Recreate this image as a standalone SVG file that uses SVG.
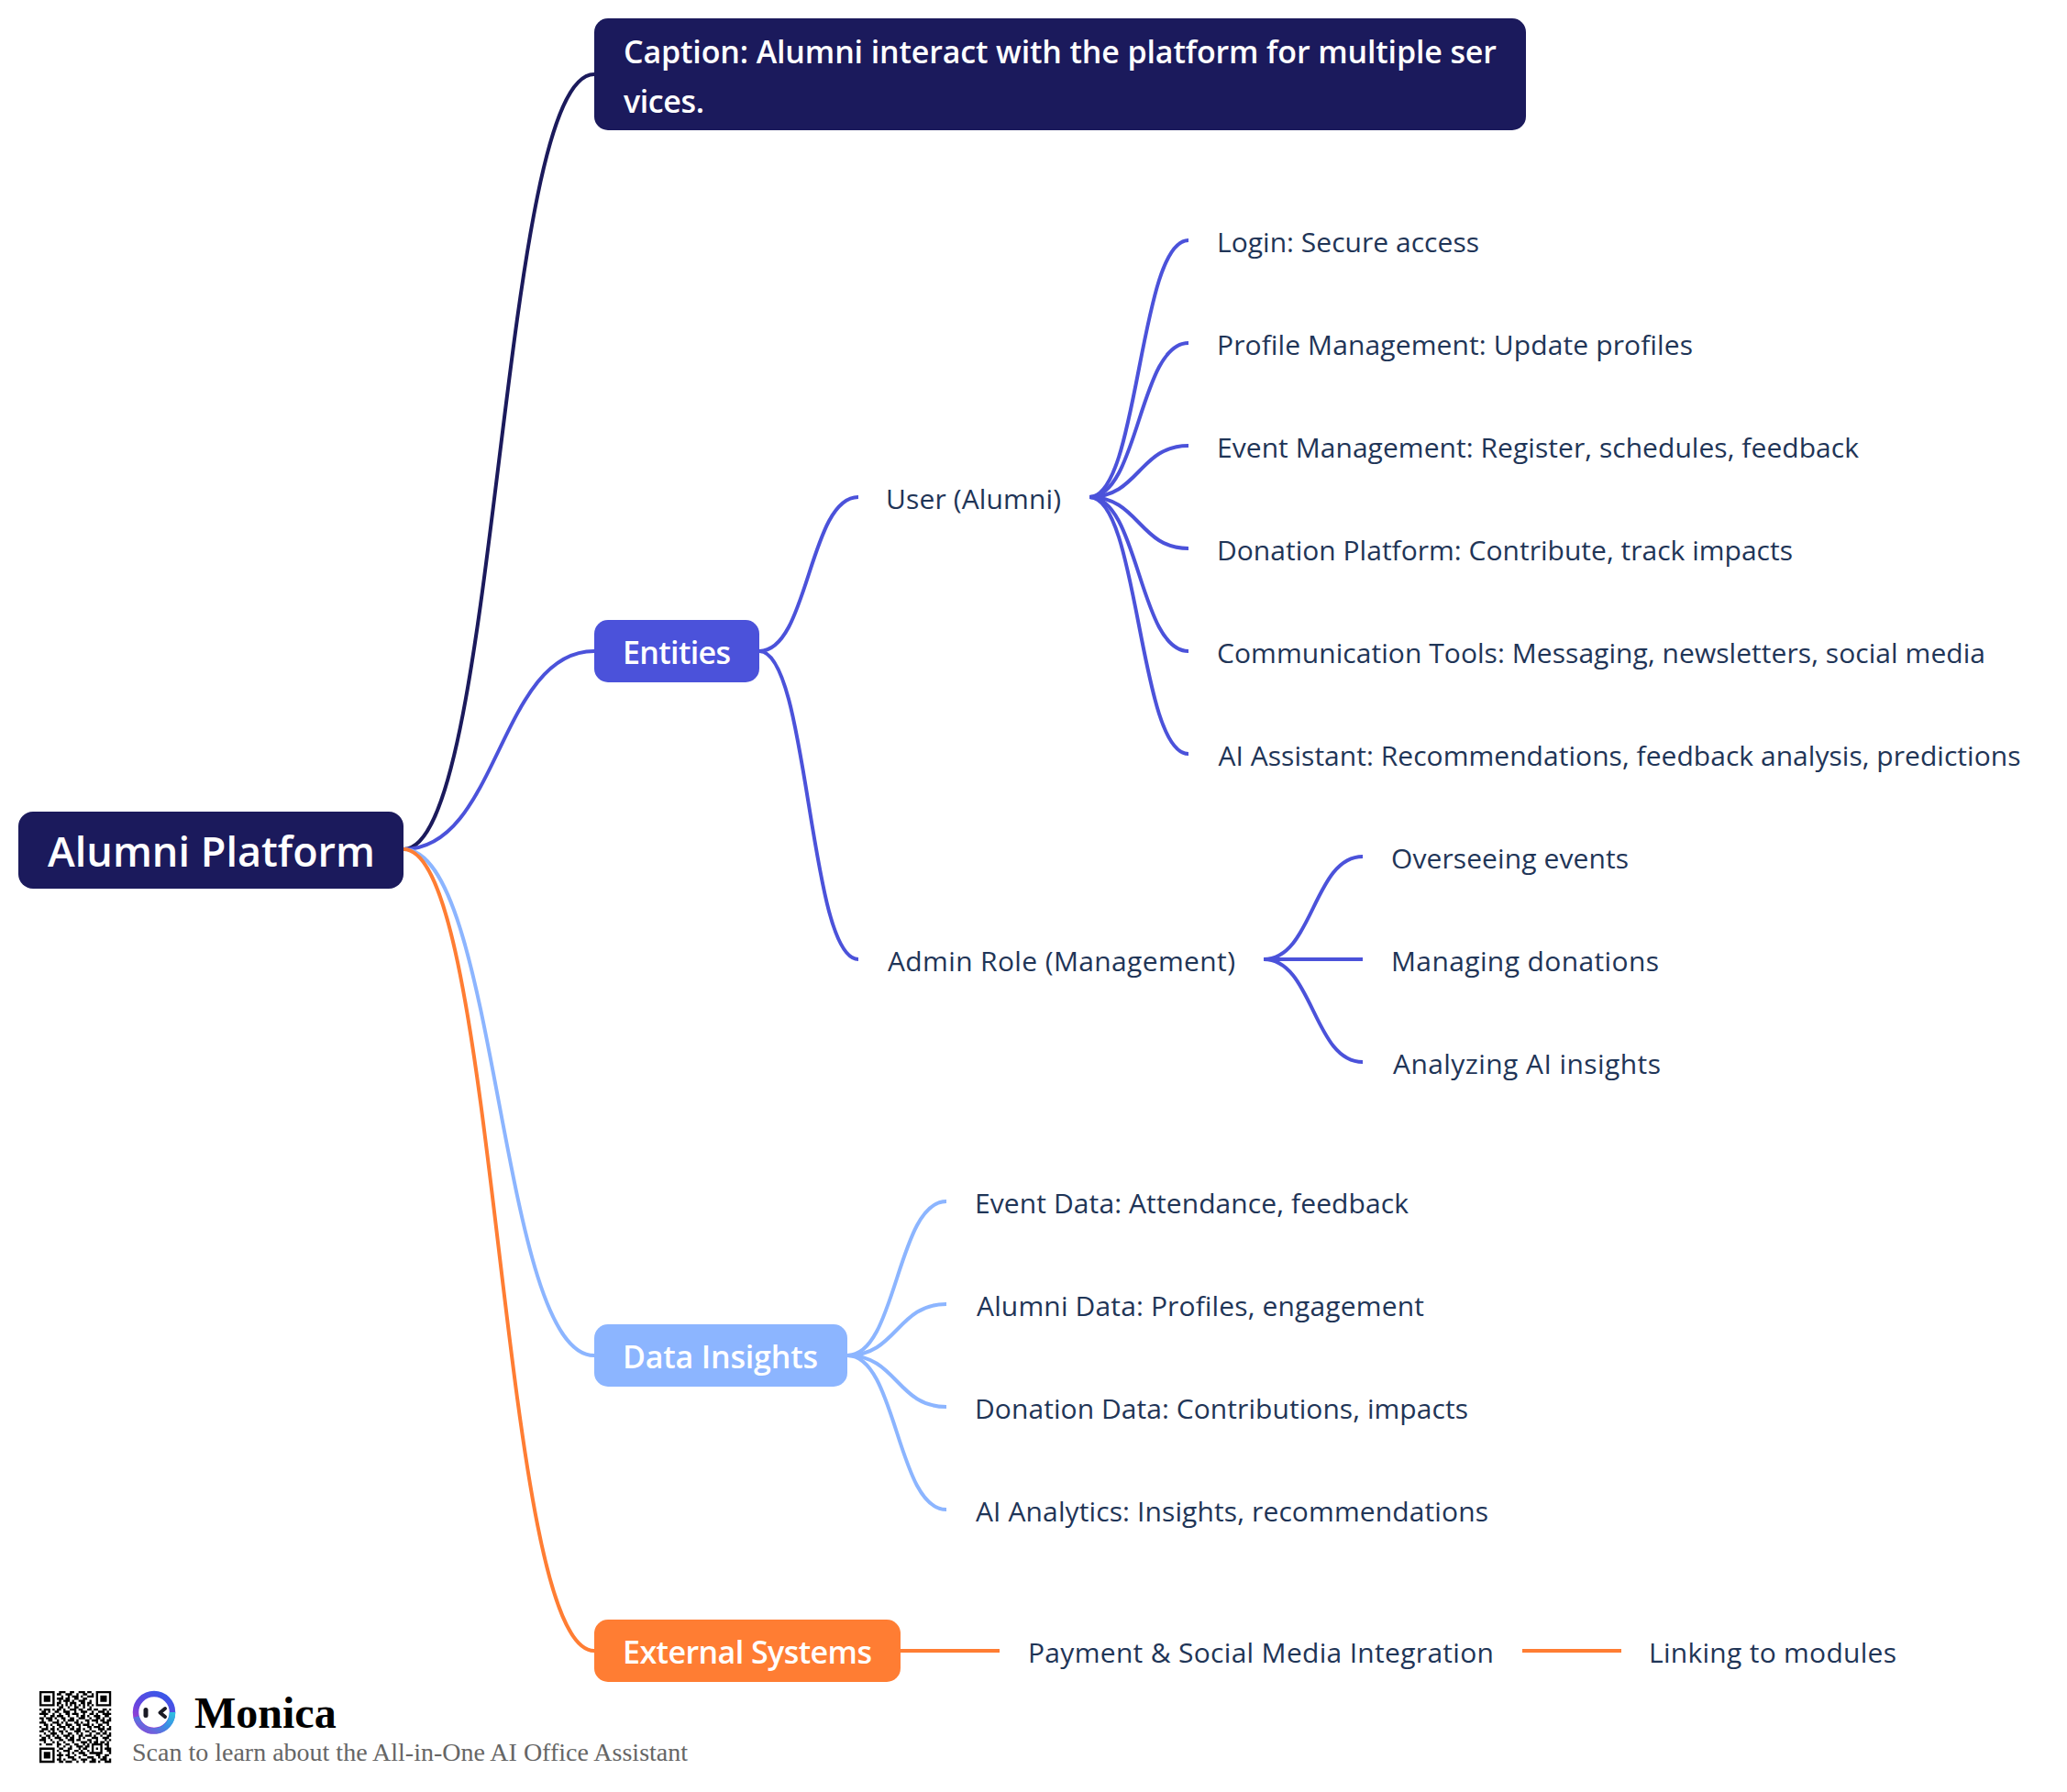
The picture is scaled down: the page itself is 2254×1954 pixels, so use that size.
<svg xmlns="http://www.w3.org/2000/svg" width="2254" height="1954" viewBox="0 0 2254 1954">
<defs>
<linearGradient id="ringA" x1="0.75" y1="0" x2="0.2" y2="1"><stop offset="0" stop-color="#3a57e8"/><stop offset="0.55" stop-color="#6a45de"/><stop offset="1" stop-color="#b13ccc"/></linearGradient>
<linearGradient id="ringB" x1="0" y1="1" x2="1" y2="0"><stop offset="0" stop-color="#8a48d8"/><stop offset="0.55" stop-color="#3a8ee4"/><stop offset="1" stop-color="#2fc0e0"/></linearGradient>
</defs>
<style>
.t{font-family:"Open Sans","Noto Sans",sans-serif;font-size:30px;fill:#1f3557}
.w{font-family:"Open Sans","Noto Sans",sans-serif;font-size:34px;font-weight:600;fill:#fff}
.c{fill:none;stroke-width:4}
.navy{stroke:#1b1a5c}.blue{stroke:#4b52da}.sky{stroke:#8cb5ff}.org{stroke:#ff7d33}
</style>
<rect width="2254" height="1954" fill="#fff"/>
<g id="connectors">
<path class="c navy" d="M440 926C544 926 544 81 648 81"/>
<path class="c blue" d="M440 926C544 926 544 710 648 710"/>
<path class="c sky" d="M440 926C544 926 544 1478 648 1478"/>
<path class="c org" d="M440 926C544 926 544 1800 648 1800"/>
<path class="c blue" d="M828 710C882 710 882 542 936 542"/>
<path class="c blue" d="M828 710C882 710 882 1046 936 1046"/>
<path class="c blue" d="M1188 542C1242 542 1242 262 1296 262"/>
<path class="c blue" d="M1188 542C1242 542 1242 374 1296 374"/>
<path class="c blue" d="M1188 542C1242 542 1242 486 1296 486"/>
<path class="c blue" d="M1188 542C1242 542 1242 598 1296 598"/>
<path class="c blue" d="M1188 542C1242 542 1242 710 1296 710"/>
<path class="c blue" d="M1188 542C1242 542 1242 822 1296 822"/>
<path class="c blue" d="M1378 1046C1432 1046 1432 934 1486 934"/>
<path class="c blue" d="M1378 1046H1486"/>
<path class="c blue" d="M1378 1046C1432 1046 1432 1158 1486 1158"/>
<path class="c sky" d="M924 1478C978 1478 978 1310 1032 1310"/>
<path class="c sky" d="M924 1478C978 1478 978 1422 1032 1422"/>
<path class="c sky" d="M924 1478C978 1478 978 1534 1032 1534"/>
<path class="c sky" d="M924 1478C978 1478 978 1646 1032 1646"/>
<path class="c org" d="M982 1800H1090"/>
<path class="c org" d="M1660 1800H1768"/>
</g>
<g id="root"><rect x="20" y="885" width="420" height="84" rx="16" fill="#1b1a5c"/><text x="52" y="945" class="w" style="font-size:45px" textLength="357" lengthAdjust="spacing">Alumni Platform</text></g>
<g id="caption"><rect x="648" y="20" width="1016" height="122" rx="15" fill="#1b1a5c"/><text x="680" y="69" class="w" textLength="952" lengthAdjust="spacing">Caption: Alumni interact with the platform for multiple ser</text><text x="680" y="123" class="w" textLength="88" lengthAdjust="spacing">vices.</text></g>
<g id="entities"><rect x="648" y="676" width="180" height="68" rx="15" fill="#4b52da"/><text x="679" y="724" class="w" textLength="118" lengthAdjust="spacing">Entities</text></g>
<g id="data-insights"><rect x="648" y="1444" width="276" height="68" rx="15" fill="#8cb5ff"/><text x="679" y="1492" class="w" textLength="213" lengthAdjust="spacing">Data Insights</text></g>
<g id="external-systems"><rect x="648" y="1766" width="334" height="68" rx="15" fill="#ff7d33"/><text x="679" y="1814" class="w" textLength="272" lengthAdjust="spacing">External Systems</text></g>
<g id="user"><text x="966" y="554.500" class="t" textLength="191" lengthAdjust="spacing">User (Alumni)</text></g>
<g id="admin"><text x="968" y="1058.500" class="t" textLength="379" lengthAdjust="spacing">Admin Role (Management)</text></g>
<g id="login"><text x="1327" y="274.500" class="t" textLength="286" lengthAdjust="spacing">Login: Secure access</text></g>
<g id="profile"><text x="1327" y="386.500" class="t" textLength="519" lengthAdjust="spacing">Profile Management: Update profiles</text></g>
<g id="event"><text x="1327" y="498.500" class="t" textLength="700" lengthAdjust="spacing">Event Management: Register, schedules, feedback</text></g>
<g id="donation"><text x="1327" y="610.500" class="t" textLength="628" lengthAdjust="spacing">Donation Platform: Contribute, track impacts</text></g>
<g id="communication"><text x="1327" y="722.500" class="t" textLength="838" lengthAdjust="spacing">Communication Tools: Messaging, newsletters, social media</text></g>
<g id="ai-assistant"><text x="1328.500" y="834.500" class="t" textLength="875" lengthAdjust="spacing">AI Assistant: Recommendations, feedback analysis, predictions</text></g>
<g id="overseeing"><text x="1517" y="946.500" class="t" textLength="259" lengthAdjust="spacing">Overseeing events</text></g>
<g id="managing"><text x="1517" y="1058.500" class="t" textLength="292" lengthAdjust="spacing">Managing donations</text></g>
<g id="analyzing"><text x="1519" y="1170.500" class="t" textLength="292" lengthAdjust="spacing">Analyzing AI insights</text></g>
<g id="event-data"><text x="1063" y="1322.500" class="t" textLength="473" lengthAdjust="spacing">Event Data: Attendance, feedback</text></g>
<g id="alumni-data"><text x="1065" y="1434.500" class="t" textLength="488" lengthAdjust="spacing">Alumni Data: Profiles, engagement</text></g>
<g id="donation-data"><text x="1063" y="1546.500" class="t" textLength="538" lengthAdjust="spacing">Donation Data: Contributions, impacts</text></g>
<g id="ai-analytics"><text x="1064" y="1658.500" class="t" textLength="559" lengthAdjust="spacing">AI Analytics: Insights, recommendations</text></g>
<g id="payment"><text x="1121" y="1812.500" class="t" textLength="508" lengthAdjust="spacing">Payment &amp; Social Media Integration</text></g>
<g id="linking"><text x="1798" y="1812.500" class="t" textLength="270" lengthAdjust="spacing">Linking to modules</text></g>
<g id="watermark">
<g transform="translate(43,1844) scale(2.37)"><path fill="none" stroke="#000" stroke-width="1" d="M0 .5h7M26 .5h7M9 .5h3M14 .5h2M18 .5h3M22 .5h2M0 1.5h1M6 1.5h1M26 1.5h1M32 1.5h1M8 1.5h2M12 1.5h3M17 1.5h1M20 1.5h2M24 1.5h1M0 2.5h1M2 2.5h3M6 2.5h1M26 2.5h1M28 2.5h3M32 2.5h1M10 2.5h1M13 2.5h1M15 2.5h3M19 2.5h1M22 2.5h3M0 3.5h1M2 3.5h3M6 3.5h1M26 3.5h1M28 3.5h3M32 3.5h1M8 3.5h3M12 3.5h2M16 3.5h2M20 3.5h2M0 4.5h1M2 4.5h3M6 4.5h1M26 4.5h1M28 4.5h3M32 4.5h1M9 4.5h1M11 4.5h3M15 4.5h1M18 4.5h3M23 4.5h1M0 5.5h1M6 5.5h1M26 5.5h1M32 5.5h1M8 5.5h2M12 5.5h1M14 5.5h3M19 5.5h2M22 5.5h2M0 6.5h7M26 6.5h7M8 6.5h1M10 6.5h1M12 6.5h1M14 6.5h1M16 6.5h1M18 6.5h1M20 6.5h1M22 6.5h1M24 6.5h1M9 7.5h2M13 7.5h1M16 7.5h2M20 7.5h1M23 7.5h1M0 8.5h1M2 8.5h3M6 8.5h1M8 8.5h2M11 8.5h1M14 8.5h3M18 8.5h2M22 8.5h2M25 8.5h2M29 8.5h2M32 8.5h1M1 9.5h2M4 9.5h1M7 9.5h2M11 9.5h3M16 9.5h1M19 9.5h3M24 9.5h1M27 9.5h3M31 9.5h1M0 10.5h4M6 10.5h1M9 10.5h1M12 10.5h2M15 10.5h3M20 10.5h1M23 10.5h2M26 10.5h1M29 10.5h4M2 11.5h1M5 11.5h2M8 11.5h3M13 11.5h1M17 11.5h1M19 11.5h2M22 11.5h1M25 11.5h3M30 11.5h2M0 12.5h2M3 12.5h3M7 12.5h1M10 12.5h2M14 12.5h2M18 12.5h3M23 12.5h1M26 12.5h2M29 12.5h1M32 12.5h1M1 13.5h1M4 13.5h2M8 13.5h1M11 13.5h1M13 13.5h3M17 13.5h1M21 13.5h2M24 13.5h3M28 13.5h2M31 13.5h2M0 14.5h3M6 14.5h3M10 14.5h1M12 14.5h1M16 14.5h2M19 14.5h1M22 14.5h1M26 14.5h1M29 14.5h3M2 15.5h2M5 15.5h1M8 15.5h2M12 15.5h3M17 15.5h2M20 15.5h3M24 15.5h1M27 15.5h2M31 15.5h1M0 16.5h1M3 16.5h1M6 16.5h1M9 16.5h3M13 16.5h1M15 16.5h1M18 16.5h1M22 16.5h2M25 16.5h3M29 16.5h1M32 16.5h1M1 17.5h3M5 17.5h2M8 17.5h1M11 17.5h1M14 17.5h2M17 17.5h2M20 17.5h1M23 17.5h1M27 17.5h3M31 17.5h2M0 18.5h2M4 18.5h1M6 18.5h1M9 18.5h2M12 18.5h1M16 18.5h3M21 18.5h2M24 18.5h2M28 18.5h1M30 18.5h1M2 19.5h1M5 19.5h3M10 19.5h1M13 19.5h2M17 19.5h1M19 19.5h1M23 19.5h1M26 19.5h2M29 19.5h2M32 19.5h1M0 20.5h1M3 20.5h2M6 20.5h1M8 20.5h1M11 20.5h3M15 20.5h1M18 20.5h2M21 20.5h3M25 20.5h1M28 20.5h1M31 20.5h2M1 21.5h2M4 21.5h1M7 21.5h3M12 21.5h1M14 21.5h2M18 21.5h1M20 21.5h1M24 21.5h3M29 21.5h3M0 22.5h3M5 22.5h1M9 22.5h2M13 22.5h3M17 22.5h2M22 22.5h2M26 22.5h1M30 22.5h1M32 22.5h1M2 23.5h1M6 23.5h1M8 23.5h1M11 23.5h1M15 23.5h1M19 23.5h3M23 23.5h1M25 23.5h2M28 23.5h2M31 23.5h1M0 24.5h1M3 24.5h3M8 24.5h2M12 24.5h2M16 24.5h2M20 24.5h1M22 24.5h1M24 24.5h5M30 24.5h2M8 25.5h1M11 25.5h1M14 25.5h1M17 25.5h3M21 25.5h2M24 25.5h1M28 25.5h1M31 25.5h1M0 26.5h7M9 26.5h2M13 26.5h2M18 26.5h1M20 26.5h2M24 26.5h1M26 26.5h1M28 26.5h1M30 26.5h3M0 27.5h1M6 27.5h1M8 27.5h1M11 27.5h3M16 27.5h2M19 27.5h1M22 27.5h1M24 27.5h1M28 27.5h1M31 27.5h2M0 28.5h1M2 28.5h3M6 28.5h1M9 28.5h1M13 28.5h1M15 28.5h1M18 28.5h3M23 28.5h6M32 28.5h1M0 29.5h1M2 29.5h3M6 29.5h1M8 29.5h3M12 29.5h2M16 29.5h1M20 29.5h2M26 29.5h2M30 29.5h2M0 30.5h1M2 30.5h3M6 30.5h1M9 30.5h1M13 30.5h3M18 30.5h1M22 30.5h3M27 30.5h1M29 30.5h2M0 31.5h1M6 31.5h1M8 31.5h2M11 31.5h1M15 31.5h2M19 31.5h3M24 31.5h2M28 31.5h3M32 31.5h1M0 32.5h7M9 32.5h2M12 32.5h3M17 32.5h1M20 32.5h1M23 32.5h3M27 32.5h1M30 32.5h3"/></g>
<circle cx="168" cy="1867" r="20" fill="#fff" stroke="url(#ringA)" stroke-width="6.5"/>
<path d="M148.500 1872A20 20 0 0 0 188 1867" fill="none" stroke="url(#ringB)" stroke-width="6.5"/>
<rect x="156.500" y="1862" width="5" height="11" rx="2.500" fill="#1a1a24"/>
<path d="M180 1863L174.500 1867.500L180 1872" fill="none" stroke="#1a1a24" stroke-width="4" stroke-linecap="round" stroke-linejoin="round"/>
<text x="212" y="1884" style="font-family:'Liberation Serif',serif;font-weight:700;font-size:48px;fill:#000">Monica</text>
<text x="144" y="1920" style="font-family:'Liberation Serif',serif;font-size:28px;fill:#666">Scan to learn about the All-in-One AI Office Assistant</text>
</g>
</svg>
